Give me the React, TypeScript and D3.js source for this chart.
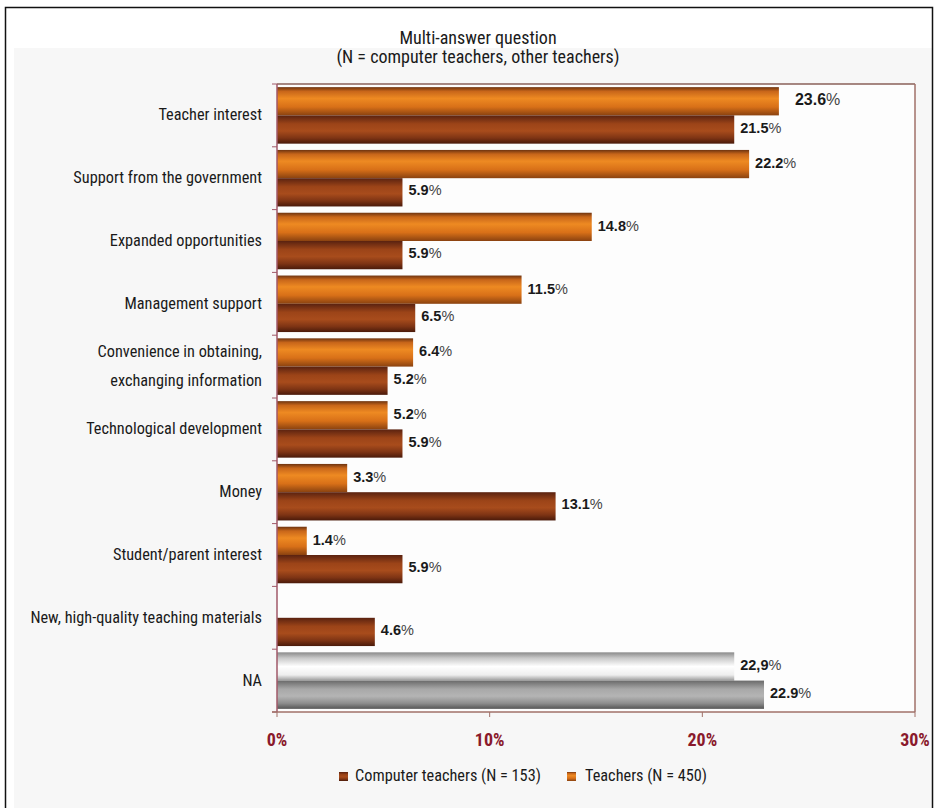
import React from 'react';
import * as d3 from 'd3';

const categories = [
  ['Teacher interest'],
  ['Support from the government'],
  ['Expanded opportunities'],
  ['Management support'],
  ['Convenience in obtaining,', 'exchanging information'],
  ['Technological development'],
  ['Money'],
  ['Student/parent interest'],
  ['New, high-quality teaching materials'],
  ['NA'],
];
const teachers = [23.6, 22.2, 14.8, 11.5, 6.4, 5.2, 3.3, 1.4, 0, 21.5];
const teacherLabels = ['23.6%', '22.2%', '14.8%', '11.5%', '6.4%', '5.2%', '3.3%', '1.4%', '', '22,9%'];
const computer = [21.5, 5.9, 5.9, 6.5, 5.2, 5.9, 13.1, 5.9, 4.6, 22.9];
const computerLabels = ['21.5%', '5.9%', '5.9%', '6.5%', '5.2%', '5.9%', '13.1%', '5.9%', '4.6%', '22.9%'];
const xTicks = [0, 10, 20, 30];
const legendItems = ['Computer teachers (N = 153)', 'Teachers (N = 450)'];
const titleLines = ['Multi-answer question', '(N = computer teachers, other teachers)'];

const FONT = "'Liberation Sans Narrow', 'Arial Narrow', 'Roboto Condensed', sans-serif";

export default function App() {
  const W = 935, H = 808;
  const left = 277, right = 915, top = 84, bottom = 712;
  const x = d3.scaleLinear().domain([0, 30]).range([left, right]);
  const y = d3.scaleBand<number>().domain(d3.range(categories.length)).range([top, bottom]).paddingInner(0.1).paddingOuter(0.05);
  const step = y.step();
  const bw = y.bandwidth() / 2;

  const label = (s: string, xx: number, yy: number, big = false) => {
    if (!s) return null;
    const num = s.replace('%', '');
    return (
      <text x={xx} y={yy} fontFamily="'Liberation Sans', Arial, sans-serif" fontSize={big ? 16 : 14.5} fill="#1a1a1a">
        <tspan fontWeight="bold">{num}</tspan>
        <tspan fontWeight="normal" fill="#444">%</tspan>
      </text>
    );
  };

  return (
    <svg width={W} height={H} style={{ display: 'block', position: 'absolute', left: 0, top: 0 }}>
      <defs>
        <linearGradient id="gOrange" x1="0" y1="0" x2="0" y2="1">
          <stop offset="0" stopColor="#6e3410" />
          <stop offset="0.15" stopColor="#c8661a" />
          <stop offset="0.4" stopColor="#ee8a22" />
          <stop offset="0.7" stopColor="#d87018" />
          <stop offset="1" stopColor="#8a4210" />
        </linearGradient>
        <linearGradient id="gDark" x1="0" y1="0" x2="0" y2="1">
          <stop offset="0" stopColor="#5a2210" />
          <stop offset="0.3" stopColor="#9c4418" />
          <stop offset="0.55" stopColor="#a84c1c" />
          <stop offset="0.8" stopColor="#7e3414" />
          <stop offset="1" stopColor="#4a1a0a" />
        </linearGradient>
        <linearGradient id="gWhite" x1="0" y1="0" x2="0" y2="1">
          <stop offset="0" stopColor="#8a8a8a" />
          <stop offset="0.2" stopColor="#c8c8c8" />
          <stop offset="0.5" stopColor="#ffffff" />
          <stop offset="0.8" stopColor="#eeeeee" />
          <stop offset="1" stopColor="#9a9a9a" />
        </linearGradient>
        <linearGradient id="gGrey" x1="0" y1="0" x2="0" y2="1">
          <stop offset="0" stopColor="#6a6a6a" />
          <stop offset="0.3" stopColor="#a8a8a8" />
          <stop offset="0.55" stopColor="#b4b4b4" />
          <stop offset="0.8" stopColor="#8e8e8e" />
          <stop offset="1" stopColor="#555555" />
        </linearGradient>
      </defs>
      <rect x={0} y={0} width={W} height={H} fill="#ffffff" />
      <rect x={14} y={48} width={919} height={H - 48} fill="#f7f7f7" />
      <rect x={5.5} y={7.5} width={927} height={H} fill="none" stroke="#111" strokeWidth={1.5} />
      {titleLines.map((t, i) => (
        <text key={i} x={478} y={44 + i * 19} textAnchor="middle" fontFamily={FONT} fontSize={18} fill="#1a1a1a">{t}</text>
      ))}
      <rect x={left} y={top} width={right - left} height={bottom - top} fill="#fdfdfd" />
      <line x1={left} y1={top} x2={right} y2={top} stroke="#8a6058" strokeWidth={1.5} />
      <line x1={right} y1={top} x2={right} y2={bottom} stroke="#a07068" strokeWidth={1.5} />

      {categories.map((c, i) => {
        const y0 = y(i)!;
        const isNA = i === categories.length - 1;
        const mid = y0 + y.bandwidth() / 2;
        return (
          <g key={i}>
            {teachers[i] > 0 && (
              <rect x={x(0)} y={y0} width={x(teachers[i]) - x(0)} height={bw} fill={isNA ? 'url(#gWhite)' : 'url(#gOrange)'} />
            )}
            <rect x={x(0)} y={y0 + bw} width={x(computer[i]) - x(0)} height={bw} fill={isNA ? 'url(#gGrey)' : 'url(#gDark)'} />
            {label(teacherLabels[i], x(teachers[i]) + (i === 0 ? 16 : 6), y0 + bw / 2 + 4, i === 0)}
            {label(computerLabels[i], x(computer[i]) + 6, y0 + bw * 1.5 + 3)}
            {c.map((line, j) => (
              <text key={j} x={262} y={mid + 5 + (j - (c.length - 1) / 2) * 29} textAnchor="end" fontFamily={FONT} fontSize={16.3} fill="#1a1a1a">{line}</text>
            ))}
          </g>
        );
      })}

      {/* left axis */}
      <line x1={left} y1={top} x2={left} y2={bottom} stroke="#a05868" strokeWidth={1.5} />
      {d3.range(categories.length + 1).map(i => {
        const ty = i === 0 ? top : i === categories.length ? bottom : y(i)! - y.paddingInner() * step / 2;
        return <line key={i} x1={left - 5} x2={left} y1={ty} y2={ty} stroke="#a05868" strokeWidth={1} />;
      })}
      {/* bottom axis */}
      <line x1={left - 5} y1={bottom} x2={right} y2={bottom} stroke="#a07068" strokeWidth={1.5} />
      {xTicks.map(t => (
        <g key={t}>
          <line x1={x(t)} x2={x(t)} y1={bottom} y2={bottom + 5} stroke="#a07068" strokeWidth={1} />
          <text x={x(t)} y={bottom + 34} textAnchor="middle" fontFamily={FONT} fontSize={18} fontWeight="bold" fill="#8a1a2c">{t}%</text>
        </g>
      ))}

      {/* legend */}
      <rect x={339} y={772} width={9} height={9} fill="url(#gDark)" />
      <text x={355} y={781} fontFamily={FONT} fontSize={16.3} fill="#1a1a1a">{legendItems[0]}</text>
      <rect x={567} y={772} width={9} height={9} fill="url(#gOrange)" />
      <text x={585} y={781} fontFamily={FONT} fontSize={16.3} fill="#1a1a1a">{legendItems[1]}</text>
    </svg>
  );
}
